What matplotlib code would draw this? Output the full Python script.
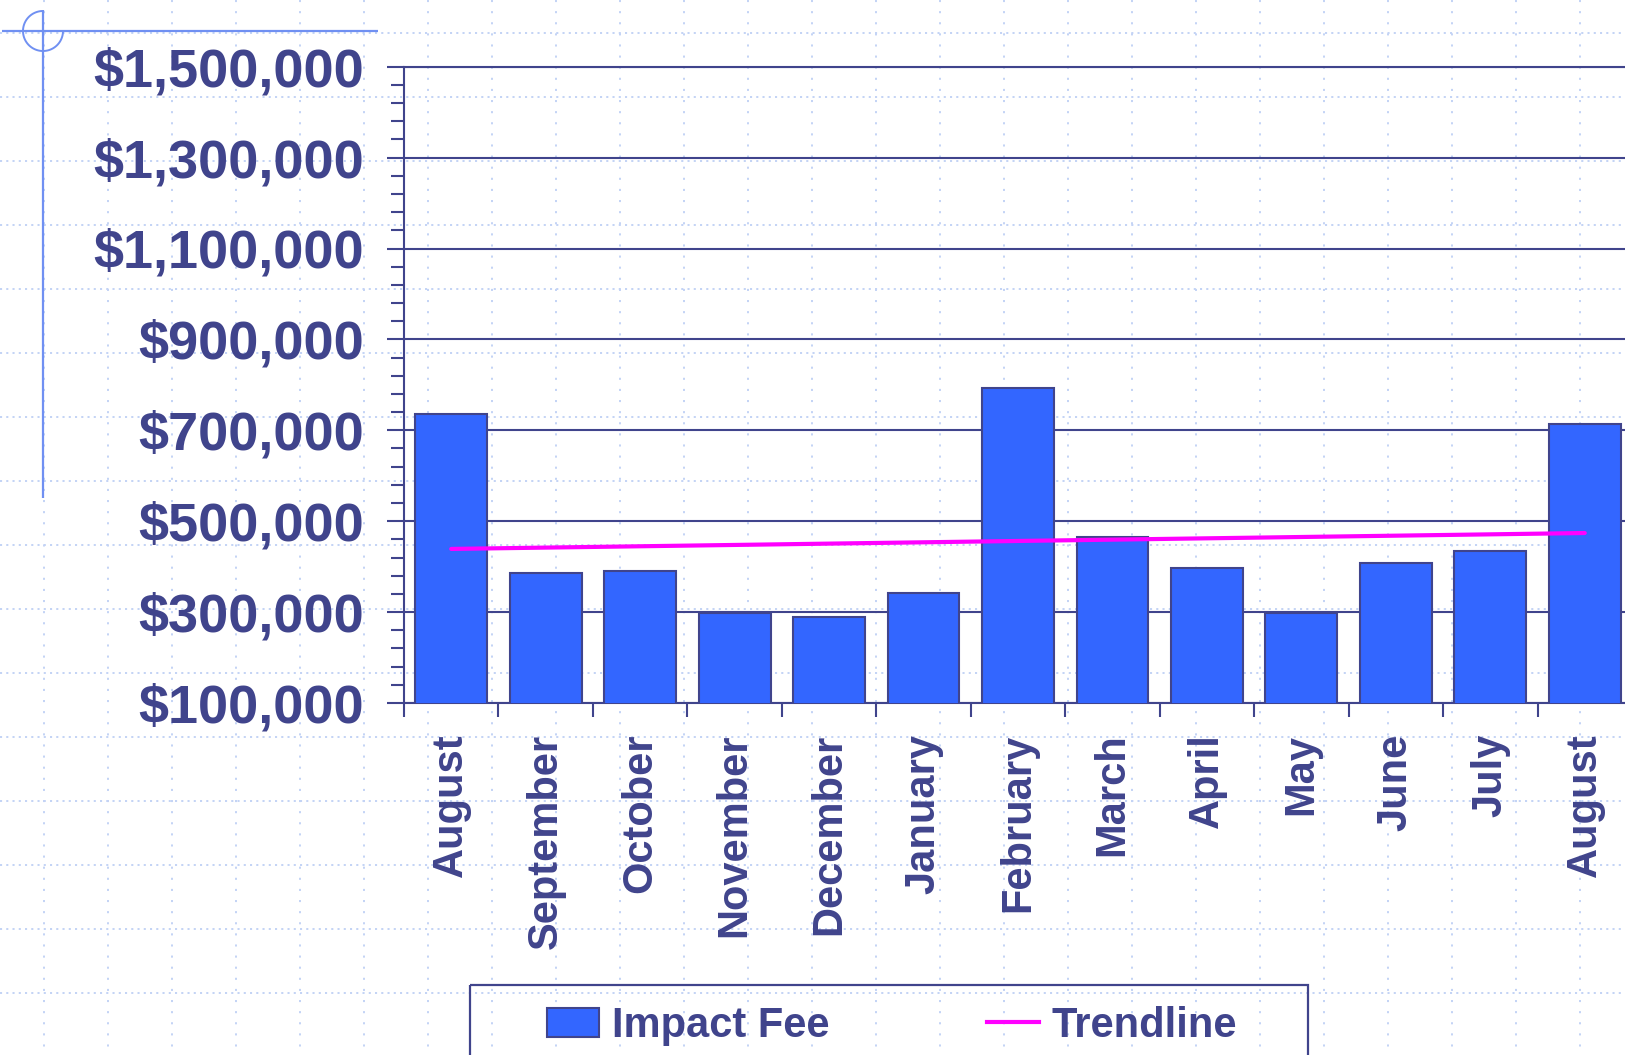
import matplotlib
matplotlib.use('Agg')
import matplotlib.pyplot as plt
import numpy as np
from matplotlib.ticker import FixedLocator
from matplotlib.patches import Rectangle, Patch
from matplotlib.lines import Line2D

# ---- data ----
months = ['August', 'September', 'October', 'November', 'December', 'January',
          'February', 'March', 'April', 'May', 'June', 'July', 'August']
impact_fee = [735000, 387000, 390000, 299000, 290000, 342000, 792000,
              465000, 397000, 297000, 408000, 434000, 713000]
trend_x = [0, 12]
trend_values = [439000, 474000]
y_ticks = [100000, 300000, 500000, 700000, 900000, 1100000, 1300000, 1500000]
y_tick_labels = ['$' + format(v, ',') for v in y_ticks]

# ---- style ----
plt.rcParams['lines.scale_dashes'] = False
FONT = ['Liberation Sans', 'DejaVu Sans']
navy = '#40448C'
bar_color = '#3366FF'
trend_color = '#FF00FF'
grid_color = '#C3D3F5'
cross_color = '#7090F2'

W, H = 1625, 1055
fig = plt.figure(figsize=(W / 100, H / 100), dpi=100)
fig.patch.set_facecolor('white')

# background decoration in pixel coordinates
bg = fig.add_axes([0, 0, 1, 1], zorder=0)
bg.set_xlim(0, W)
bg.set_ylim(H, 0)
bg.axis('off')
for y in range(33, H, 64):
    bg.plot([0, W], [y, y], color=grid_color, lw=1.4, linestyle=(0, (1.5, 3.0)))
for x in range(44, W, 64):
    bg.plot([x, x], [0, H], color=grid_color, lw=1.4, linestyle=(0, (1.5, 6.5)))

# crosshair ornament
bg.plot([2, 378], [31, 31], color=cross_color, lw=1.6, solid_capstyle='butt')
bg.plot([43, 43], [10, 498], color=cross_color, lw=1.6, solid_capstyle='butt')
t = np.radians(np.linspace(90, 360, 100))
bg.plot(43 + 20 * np.cos(t), 31 - 20 * np.sin(t), color=cross_color, lw=1.4)

# legend frame
bg.add_patch(Rectangle((469.5, 984.6), 1308 - 469.5, 200, fill=False,
                       edgecolor=navy, lw=1.6, zorder=3))

# ---- main axes ----
left, right, top, bottom = 404, 1632, 66.7, 703
ax = fig.add_axes([left / W, 1 - bottom / H, (right - left) / W, (bottom - top) / H], zorder=2)
ax.patch.set_alpha(0)

x = np.arange(len(months))
ax.bar(x, impact_fee, width=0.76, color=bar_color, edgecolor=navy, linewidth=1.5, zorder=3)
ax.plot(trend_x, trend_values, color=trend_color, lw=3, zorder=4, solid_capstyle='round')

ax.set_xlim(-0.5, len(months) - 0.5)
ax.set_ylim(y_ticks[0], y_ticks[-1])

ax.set_yticks(y_ticks)
ax.set_yticklabels(y_tick_labels)
ax.yaxis.set_minor_locator(FixedLocator(np.arange(y_ticks[0], y_ticks[-1] + 1, 40000)))
for lab in ax.get_yticklabels():
    lab.set_fontsize(39)
    lab.set_fontweight('bold')
    lab.set_color(navy)
    lab.set_family(FONT)
ax.tick_params(axis='y', which='major', length=12, width=1.5, color=navy, pad=17)
ax.tick_params(axis='y', which='minor', length=9.5, width=1.5, color=navy)

ax.set_xticks(np.arange(-0.5, len(months), 1.0))
ax.set_xticklabels([''] * (len(months) + 1))
ax.set_xticks(x, minor=True)
ax.set_xticklabels(months, minor=True, rotation=90, fontsize=30, fontweight='bold',
                   color=navy, family=FONT, ha='center', va='top')
ax.tick_params(axis='x', which='major', length=10, width=1.5, color=navy)
ax.tick_params(axis='x', which='minor', length=0, pad=22)

ax.yaxis.grid(True, which='major', color=navy, lw=1.5, zorder=1)
ax.set_axisbelow(True)
for s in ['left', 'bottom', 'top']:
    ax.spines[s].set_color(navy)
    ax.spines[s].set_linewidth(1.5)
ax.spines['right'].set_visible(False)

# legend
handles = [Patch(facecolor=bar_color, edgecolor=navy, lw=1.5),
           Line2D([], [], color=trend_color, lw=3)]
leg = fig.legend(handles, ['Impact Fee', 'Trendline'], loc='upper left',
                 bbox_to_anchor=(547 / W, 1 - 1006 / H), ncol=2, frameon=False,
                 prop={'family': FONT, 'weight': 'bold', 'size': 30},
                 handlelength=1.25, handletextpad=0.3, columnspacing=3.78,
                 borderpad=0, borderaxespad=0, labelcolor=navy)

fig.savefig('out.png', dpi=100)
